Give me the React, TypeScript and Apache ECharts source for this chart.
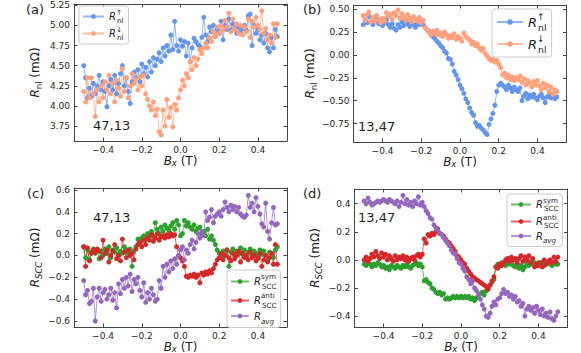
import React, { useEffect, useRef } from 'react';
import * as echarts from 'echarts';

const FONT = 'DejaVu Sans';
const FRAME = '#444444';
const TXT = '#1e1e1e';

const BLUE = '#6495ED';
const SALMON = '#FFA07A';
const GREEN = '#2ca02c';
const RED = '#d62728';
const PURPLE = '#9467bd';

const bx = [
  -0.5, -0.49, -0.48, -0.47, -0.46, -0.45, -0.44, -0.43, -0.42, -0.41,
  -0.4, -0.39, -0.38, -0.37, -0.36, -0.35, -0.34, -0.33, -0.32, -0.31,
  -0.3, -0.29, -0.28, -0.27, -0.26, -0.25, -0.24, -0.23, -0.22, -0.21,
  -0.2, -0.19, -0.18, -0.17, -0.16, -0.15, -0.14, -0.13, -0.12, -0.11,
  -0.1, -0.09, -0.08, -0.07, -0.06, -0.05, -0.04, -0.03, -0.02, -0.01,
  0.0, 0.01, 0.02, 0.03, 0.04, 0.05, 0.06, 0.07, 0.08, 0.09,
  0.1, 0.11, 0.12, 0.13, 0.14, 0.15, 0.16, 0.17, 0.18, 0.19,
  0.2, 0.21, 0.22, 0.23, 0.24, 0.25, 0.26, 0.27, 0.28, 0.29,
  0.3, 0.31, 0.32, 0.33, 0.34, 0.35, 0.36, 0.37, 0.38, 0.39,
  0.4, 0.41, 0.42, 0.43, 0.44, 0.45, 0.46, 0.47, 0.48, 0.49,
  0.5,
];

// (a) R_nl up / down, contacts 47,13
const aUp = [
  4.50, 4.35, 4.10, 4.22, 4.12, 4.28, 4.15, 4.25, 4.38, 4.20,
  4.30, 4.18, 3.99, 4.25, 4.33, 4.20, 4.38, 4.15, 4.28, 4.40,
  4.50, 4.25, 4.35, 4.18, 4.03, 4.30, 4.42, 4.35, 4.45, 4.30,
  4.52, 4.40, 4.48, 4.36, 4.55, 4.42, 4.60, 4.50, 4.58, 4.66,
  4.55, 4.72, 4.62, 4.75, 4.68, 4.88, 4.70, 5.05, 4.75, 4.68,
  4.82, 4.74, 4.80, 4.62, 4.78, 4.55, 4.72, 4.84, 4.80, 4.76,
  4.74, 4.85, 5.10, 4.88, 4.80, 4.98, 4.92, 5.00, 4.86, 4.95,
  4.90, 5.05, 4.82, 5.00, 4.95, 5.08, 4.94, 5.02, 4.96, 4.90,
  4.98, 4.92, 4.96, 5.00, 4.94, 5.12, 5.14, 4.75, 5.00, 4.90,
  4.95, 4.82, 4.88, 4.78, 4.90, 4.72, 4.67, 4.85, 4.72, 4.95,
  4.86,
];
const aDown = [
  4.18, 4.05, 4.35, 4.10, 4.35, 4.15, 3.87, 4.20, 4.05, 4.25,
  4.10, 4.30, 4.20, 4.38, 4.15, 4.28, 4.05, 4.32, 4.22, 4.12,
  4.46, 4.18, 4.35, 4.10, 4.25, 4.40, 4.28, 4.33, 4.20, 4.36,
  4.25, 4.38, 4.15, 4.08, 4.00, 3.95, 4.05, 3.88, 3.96, 3.68,
  3.64, 3.95, 3.75, 4.08, 3.86, 3.98, 3.74, 4.02, 3.95, 4.10,
  4.20, 4.32, 4.25, 4.40, 4.35, 4.55, 4.45, 4.60, 4.50, 4.58,
  4.70, 4.65, 4.72, 4.78, 4.72, 4.85, 4.80, 4.92, 4.86, 4.98,
  4.90, 5.00, 4.94, 5.06, 4.98, 5.15, 4.92, 5.08, 4.95, 5.02,
  4.90, 5.00, 4.88, 4.98, 4.92, 5.08, 4.85, 5.05, 4.98, 5.10,
  5.00, 4.95, 5.18, 4.90, 4.96, 4.82, 4.88, 4.78, 5.02, 4.85,
  5.02,
];

// (b) R_nl up / down, contacts 13,47
const bUp = [
  0.33, 0.38, 0.35, 0.42, 0.36, 0.33, 0.40, 0.37, 0.34, 0.36,
  0.32, 0.35, 0.38, 0.33, 0.30, 0.34, 0.29, 0.27, 0.33, 0.30,
  0.36, 0.32, 0.38, 0.34, 0.31, 0.36, 0.33, 0.30, 0.35, 0.33,
  0.36, 0.33, 0.30, 0.27, 0.26, 0.22, 0.20, 0.18, 0.15, 0.13,
  0.10, 0.08, 0.04, 0.02, -0.04, -0.05, -0.10, -0.18, -0.22, -0.27,
  -0.33, -0.37, -0.42, -0.48, -0.52, -0.58, -0.63, -0.66, -0.74, -0.78,
  -0.77, -0.80, -0.82, -0.85, -0.87, -0.76, -0.70, -0.64, -0.55, -0.40,
  -0.33, -0.31, -0.33, -0.35, -0.38, -0.33, -0.36, -0.40, -0.35, -0.38,
  -0.40, -0.36, -0.50, -0.45, -0.42, -0.48, -0.44, -0.46, -0.43, -0.47,
  -0.49, -0.45, -0.43, -0.47, -0.52, -0.46, -0.44, -0.47, -0.45, -0.48,
  -0.46,
];
const bDown = [
  0.43, 0.38, 0.44, 0.47, 0.36, 0.41, 0.37, 0.43, 0.39, 0.35,
  0.40, 0.37, 0.46, 0.42, 0.44, 0.39, 0.46, 0.43, 0.49, 0.40,
  0.45, 0.41, 0.38, 0.44, 0.40, 0.36, 0.42, 0.39, 0.37, 0.41,
  0.35, 0.38, 0.30, 0.27, 0.25, 0.22, 0.26, 0.23, 0.27, 0.22,
  0.24, 0.20, 0.25, 0.22, 0.18, 0.21, 0.19, 0.23, 0.17, 0.20,
  0.18, 0.15, 0.24, 0.20, 0.18, 0.16, 0.12, 0.14, 0.10, 0.12,
  0.08, 0.05, 0.07, 0.02, -0.01, -0.04, -0.06, -0.05, -0.08, -0.06,
  -0.10, -0.14, -0.22, -0.20, -0.25, -0.22, -0.27, -0.24, -0.28, -0.25,
  -0.27, -0.23, -0.30, -0.26, -0.33, -0.28, -0.31, -0.35, -0.29, -0.33,
  -0.28, -0.34, -0.38, -0.31, -0.36, -0.33, -0.40, -0.35, -0.43, -0.38,
  -0.40,
];

// (c) R_SCC sym / anti / avg, contacts 47,13
const cSym = [
  0.08, -0.02, 0.05, -0.04, 0.03, 0.06, 0.02, 0.05, -0.03, 0.04,
  0.00, 0.06, 0.02, 0.08, -0.02, 0.05, 0.03, 0.07, 0.01, 0.04,
  0.02, 0.08, 0.05, 0.02, 0.06, -0.10, 0.04, 0.08, 0.15, 0.12,
  0.16, 0.18, 0.14, 0.20, 0.17, 0.22, 0.18, 0.30, 0.24, 0.20,
  0.26, 0.22, 0.28, 0.25, 0.23, 0.27, 0.30, 0.24, 0.32, 0.28,
  0.18, 0.20, 0.32, 0.27, 0.30, 0.26, 0.24, 0.28, 0.22, 0.25,
  0.26, 0.20, 0.22, 0.18, 0.24, 0.15, 0.18, 0.14, 0.10, 0.05,
  0.02, -0.02, 0.04, 0.00, 0.05, -0.10, 0.03, 0.06, 0.00, 0.04,
  0.02, 0.07, 0.01, 0.05, -0.02, 0.03, 0.06, 0.00, 0.04, 0.02,
  -0.03, 0.05, 0.01, 0.04, 0.00, -0.05, 0.03, 0.02, -0.02, 0.05,
  0.08,
];
const cAnti = [
  0.08, -0.10, 0.07, -0.05, 0.02, 0.05, 0.03, 0.06, 0.04, -0.02,
  0.14, 0.02, 0.05, -0.06, 0.00, 0.04, 0.10, -0.03, 0.00, -0.05,
  0.15, 0.03, -0.02, 0.05, 0.00, 0.02, -0.04, 0.06, 0.10, 0.12,
  0.08, 0.14, 0.10, 0.16, 0.14, 0.19, 0.13, 0.16, 0.20, 0.14,
  0.17, 0.18, 0.16, 0.19, 0.17, 0.20, 0.18, 0.19, 0.08, 0.00,
  -0.02, -0.05, -0.10, -0.19, -0.20, -0.18, -0.19, -0.17, -0.20, -0.18,
  -0.25, -0.16, -0.18, -0.15, -0.17, -0.14, -0.16, -0.12, -0.08, -0.04,
  -0.02, 0.02, -0.04, 0.00, 0.05, -0.02, -0.05, 0.02, -0.03, 0.00,
  0.04, -0.06, 0.02, -0.02, 0.00, -0.04, 0.03, -0.02, 0.00, -0.05,
  -0.02, 0.02, -0.10, -0.04, 0.00, -0.06, -0.02, 0.02, -0.08, 0.10,
  -0.08,
];
const cAvg = [
  -0.23, -0.36, -0.32, -0.44, -0.42, -0.30, -0.60, -0.38, -0.30, -0.42,
  -0.34, -0.31, -0.40, -0.36, -0.30, -0.41, -0.34, -0.48, -0.26, -0.35,
  -0.22, -0.30, -0.20, -0.28, -0.17, -0.33, -0.22, -0.26, -0.20, -0.32,
  -0.38, -0.25, -0.43, -0.34, -0.40, -0.30, -0.36, -0.42, -0.40, -0.23,
  -0.30, -0.10, -0.20, -0.08, -0.15, -0.05, -0.12, -0.03, -0.08, 0.00,
  0.05, 0.08, -0.04, 0.05, 0.02, 0.10, 0.14, 0.06, 0.12, 0.20,
  0.16, 0.22, 0.18, 0.40, 0.32, 0.35, 0.42, 0.30, 0.36, 0.38,
  0.40, 0.36, 0.42, 0.49, 0.44, 0.40, 0.46, 0.42, 0.45, 0.40,
  0.44, 0.38, 0.36, 0.35, 0.37, 0.55, 0.44, 0.48, 0.40, 0.53,
  0.45, 0.38, 0.29, 0.26, 0.48, 0.22, 0.15, 0.30, 0.44, 0.28,
  0.29,
];

// (d) R_SCC sym / anti / avg, contacts 13,47
const dSym = [
  -0.03, -0.04, -0.02, -0.03, -0.05, -0.03, -0.04, -0.02, -0.03, -0.05,
  -0.04, -0.06, -0.05, -0.07, -0.04, -0.05, -0.06, -0.04, -0.05, -0.06,
  -0.04, -0.05, -0.03, -0.05, -0.06, -0.04, -0.03, -0.02, -0.04, -0.03,
  -0.05, -0.15, -0.14, -0.16, -0.17, -0.20, -0.21, -0.23, -0.24, -0.23,
  -0.25, -0.24, -0.28, -0.27, -0.28, -0.27, -0.26, -0.27, -0.26, -0.27,
  -0.26, -0.27, -0.26, -0.27, -0.26, -0.28, -0.27, -0.29, -0.27, -0.26,
  -0.24, -0.23, -0.25, -0.22, -0.20, -0.18, -0.16, -0.14, -0.05, -0.03,
  -0.04, -0.02, -0.03, -0.04, -0.02, -0.03, -0.02, -0.04, -0.05, -0.03,
  -0.06, -0.04, -0.07, -0.05, -0.03, -0.04, -0.02, -0.03, -0.02, -0.04,
  -0.02, -0.03, -0.02, -0.04, -0.03, -0.02, -0.03, -0.04, -0.02, -0.03,
  -0.03,
];
const dAnti = [
  0.00, 0.02, -0.01, 0.01, 0.04, 0.02, 0.06, 0.03, 0.01, 0.05,
  0.02, 0.04, 0.00, 0.03, 0.01, -0.01, 0.03, 0.00, 0.02, 0.01,
  0.03, 0.00, 0.02, -0.01, 0.01, 0.02, 0.00, 0.03, 0.04, 0.02,
  0.04, 0.15, 0.12, 0.18, 0.17, 0.19, 0.18, 0.20, 0.22, 0.19,
  0.18, 0.17, 0.15, 0.13, 0.12, 0.10, 0.08, 0.06, 0.03, 0.02,
  0.00, -0.02, -0.03, -0.06, -0.08, -0.10, -0.12, -0.13, -0.14, -0.15,
  -0.16, -0.17, -0.18, -0.19, -0.21, -0.18, -0.15, -0.12, -0.05, -0.06,
  -0.03, -0.04, -0.02, 0.00, 0.01, -0.01, 0.02, 0.00, 0.01, -0.02,
  0.01, 0.03, -0.01, 0.02, 0.00, 0.03, -0.02, 0.01, -0.05, -0.03,
  -0.04, -0.02, -0.05, 0.00, -0.03, -0.01, 0.00, -0.02, 0.02, -0.01,
  0.02,
];
const dAvg = [
  0.42, 0.40, 0.44, 0.41, 0.39, 0.40, 0.41, 0.42, 0.41, 0.42,
  0.43, 0.42, 0.41, 0.43, 0.42, 0.41, 0.40, 0.42, 0.38, 0.41,
  0.46, 0.40, 0.43, 0.39, 0.41, 0.38, 0.42, 0.40, 0.45, 0.39,
  0.41, 0.38, 0.35, 0.33, 0.30, 0.29, 0.25, 0.23, 0.21, 0.19,
  0.18, 0.16, 0.14, 0.12, 0.10, 0.07, 0.05, 0.04, 0.01, -0.02,
  -0.03, -0.06, -0.08, -0.12, -0.14, -0.17, -0.15, -0.20, -0.22, -0.25,
  -0.28, -0.32, -0.35, -0.40, -0.41, -0.38, -0.33, -0.30, -0.32, -0.28,
  -0.27, -0.24, -0.21, -0.24, -0.23, -0.26, -0.25, -0.28, -0.26, -0.30,
  -0.29, -0.33, -0.31, -0.40, -0.35, -0.33, -0.36, -0.34, -0.38, -0.33,
  -0.36, -0.39, -0.35, -0.40, -0.38, -0.41, -0.37, -0.42, -0.43, -0.40,
  -0.37,
];

const X_TICKS = [-0.4, -0.2, 0, 0.2, 0.4];
const A_Y_TICKS = [3.75, 4.0, 4.25, 4.5, 4.75, 5.0, 5.25];
const B_Y_TICKS = [-0.75, -0.5, -0.25, 0, 0.25, 0.5];
const C_Y_TICKS = [-0.6, -0.4, -0.2, 0, 0.2, 0.4, 0.6];
const D_Y_TICKS = [-0.4, -0.2, 0, 0.2, 0.4];

const fmt = (d: number) => (v: number) => {
  const s = Math.abs(v).toFixed(d);
  return (v < -1e-9 ? '\u2212' : '') + s;
};

const axisRich = (lh: number) => ({
  i: { fontFamily: FONT, fontSize: 12, fontStyle: 'italic', color: TXT, lineHeight: lh, verticalAlign: 'middle' },
  t: { fontFamily: FONT, fontSize: 12, color: TXT, lineHeight: lh, verticalAlign: 'middle' },
  s: { fontFamily: FONT, fontSize: 8.5, color: TXT, lineHeight: 9, verticalAlign: 'bottom' },
  si: { fontFamily: FONT, fontSize: 8.5, fontStyle: 'italic', color: TXT, lineHeight: 9, verticalAlign: 'bottom' },
});

const legendRich = (fs: number, lh: number) => {
  const sf = Math.round(fs * 0.72 * 10) / 10;
  const sl = Math.round(sf * 1.1);
  return {
    i: { fontFamily: FONT, fontSize: fs, fontStyle: 'italic', color: TXT, lineHeight: lh, verticalAlign: 'middle' },
    s: { fontFamily: FONT, fontSize: sf, color: TXT, lineHeight: sl, verticalAlign: 'bottom' },
    si: { fontFamily: FONT, fontSize: sf, fontStyle: 'italic', color: TXT, lineHeight: sl, verticalAlign: 'bottom' },
    p: { fontFamily: FONT, fontSize: sf, color: TXT, lineHeight: sl, verticalAlign: 'top', width: 1 },
  };
};

const LEGEND_TEXT: Record<string, string> = {
  aUp: '{i|R}{p|\u2191}{s|nl}',
  aDown: '{i|R}{p|\u2193}{s|nl}',
  bUp: '{i|R}{p|\u2191}{s|nl}',
  bDown: '{i|R}{p|\u2193}{s|nl}',
  cSym: '{i|R}{p|sym}{s|SCC}',
  cAnti: '{i|R}{p|anti}{s|SCC}',
  cAvg: '{i|R}{si|avg}',
  dSym: '{i|R}{p|sym}{s|SCC}',
  dAnti: '{i|R}{p|anti}{s|SCC}',
  dAvg: '{i|R}{si|avg}',
};

const X_NAME = '{i|B}{si|x}{t| (T)}';

const panels = [
  { grid: { left: 74, top: 4, width: 213, height: 137 }, ymin: 3.565, ymax: 5.265, yticks: A_Y_TICKS, yd: 2, yname: '{i|R}{s|nl}{t| (mΩ)}', xgap: 11 },
  { grid: { left: 353.5, top: 5, width: 213, height: 137 }, ymin: -0.952, ymax: 0.545, yticks: B_Y_TICKS, yd: 2, yname: '{i|R}{s|nl}{t| (mΩ)}', xgap: 11 },
  { grid: { left: 74, top: 188, width: 213, height: 139 }, ymin: -0.655, ymax: 0.618, yticks: C_Y_TICKS, yd: 1, yname: '{i|R}{si|SCC}{t| (mΩ)}', xgap: 8 },
  { grid: { left: 354.5, top: 189, width: 213, height: 138 }, ymin: -0.478, ymax: 0.505, yticks: D_Y_TICKS, yd: 1, yname: '{i|R}{si|SCC}{t| (mΩ)}', xgap: 8 },
];

const frameLine = { show: true, onZero: false, lineStyle: { color: FRAME, width: 1 } };
const tickStyle = (vals: number[]) => ({ show: true, inside: true, length: 3.5, customValues: vals, lineStyle: { color: FRAME, width: 1 } });
const labelStyle = (vals: number[], d: number) => ({
  show: true, customValues: vals, formatter: fmt(d), fontFamily: FONT, fontSize: 9, color: TXT, margin: 4,
});

function buildOption() {
  const grid: any[] = [];
  const xAxis: any[] = [];
  const yAxis: any[] = [];
  panels.forEach((p, gi) => {
    grid.push({ ...p.grid, containLabel: false, outerBoundsMode: 'none' });
    xAxis.push({
      type: 'value', gridIndex: gi, position: 'bottom', min: -0.55, max: 0.55,
      axisLine: frameLine, axisTick: tickStyle(X_TICKS), axisLabel: labelStyle(X_TICKS, 1),
      splitLine: { show: false },
      name: X_NAME, nameLocation: 'middle', nameGap: p.xgap,
      nameTextStyle: { fontFamily: FONT, fontSize: 12, color: TXT, rich: axisRich(14) },
    });
    xAxis.push({
      type: 'value', gridIndex: gi, position: 'top', min: -0.55, max: 0.55,
      axisLine: frameLine, axisTick: tickStyle(X_TICKS), axisLabel: { show: false }, splitLine: { show: false },
    });
    yAxis.push({
      type: 'value', gridIndex: gi, position: 'left', min: p.ymin, max: p.ymax,
      axisLine: frameLine, axisTick: tickStyle(p.yticks), axisLabel: labelStyle(p.yticks, p.yd),
      splitLine: { show: false },
      name: p.yname, nameLocation: 'middle', nameGap: 31, nameRotate: 90,
      nameTextStyle: { fontFamily: FONT, fontSize: 12, color: TXT, rich: axisRich(17) },
    });
    yAxis.push({
      type: 'value', gridIndex: gi, position: 'right', min: p.ymin, max: p.ymax,
      axisLine: frameLine, axisTick: tickStyle(p.yticks), axisLabel: { show: false }, splitLine: { show: false },
    });
  });

  const mk = (name: string, vals: number[], color: string, p: number) => ({
    type: 'line', name, xAxisIndex: 2 * p, yAxisIndex: 2 * p,
    data: bx.map((x, i) => [x, vals[i]]),
    symbol: 'circle', symbolSize: 5, showSymbol: true, showAllSymbol: true,
    lineStyle: { color, width: 1, opacity: 0.7 },
    itemStyle: { color },
    emphasis: { disabled: true }, silent: true, clip: true,
  });

  const series = [
    mk('aUp', aUp, BLUE, 0), mk('aDown', aDown, SALMON, 0),
    mk('bUp', bUp, BLUE, 1), mk('bDown', bDown, SALMON, 1),
    mk('cSym', cSym, GREEN, 2), mk('cAnti', cAnti, RED, 2), mk('cAvg', cAvg, PURPLE, 2),
    mk('dSym', dSym, GREEN, 3), mk('dAnti', dAnti, RED, 3), mk('dAvg', dAvg, PURPLE, 3),
  ];

  const box = {
    orient: 'vertical', selectedMode: false,
    backgroundColor: 'rgba(255,255,255,0.8)', borderColor: '#cccccc', borderWidth: 1, borderRadius: 3,
    formatter: (n: string) => LEGEND_TEXT[n] || n,
  };
  const legend = [
    { ...box, data: ['aUp', 'aDown'], left: 79, top: 6, itemWidth: 21, itemHeight: 6, itemGap: 2, padding: [3, 5, 3, 3], textStyle: { fontFamily: FONT, fontSize: 10, color: TXT, rich: legendRich(10, 15) } },
    { ...box, data: ['bUp', 'bDown'], left: 492, top: 9, itemWidth: 26, itemHeight: 7, itemGap: 2, padding: [3, 5, 3, 4], textStyle: { fontFamily: FONT, fontSize: 13, color: TXT, rich: legendRich(13, 20) } },
    { ...box, data: ['cSym', 'cAnti', 'cAvg'], left: 227, top: 270, itemWidth: 18, itemHeight: 6, itemGap: 2, padding: [3, 4, 3, 3], textStyle: { fontFamily: FONT, fontSize: 10, color: TXT, rich: legendRich(10, 17) } },
    { ...box, data: ['dSym', 'dAnti', 'dAvg'], left: 507, top: 194, itemWidth: 20, itemHeight: 6, itemGap: 2, padding: [3, 4, 3, 3], textStyle: { fontFamily: FONT, fontSize: 10, color: TXT, rich: legendRich(10, 15) } },
  ];

  const txt = (text: string, x: number, y: number) => ({
    type: 'text', x, y, silent: true,
    style: { text, fontFamily: FONT, fontSize: 13, fill: TXT, align: 'left', verticalAlign: 'middle' },
  });
  const graphic = [
    txt('(a)', 26, 9), txt('(b)', 303, 9), txt('(c)', 27, 193), txt('(d)', 303, 193),
    txt('47,13', 93, 125), txt('13,47', 358, 126), txt('47,13', 93, 217), txt('13,47', 358, 217),
  ];

  return {
    animation: false,
    backgroundColor: '#ffffff',
    grid, xAxis, yAxis, series, legend, graphic,
  };
}

export default function App() {
  const ref = useRef<HTMLDivElement>(null);
  useEffect(() => {
    document.body.style.margin = '0';
    if (!ref.current) return;
    const chart = echarts.init(ref.current, undefined, { renderer: 'svg' });
    chart.setOption(buildOption() as any);
    return () => chart.dispose();
  }, []);
  return <div ref={ref} style={{ width: 581, height: 353 }} />;
}
